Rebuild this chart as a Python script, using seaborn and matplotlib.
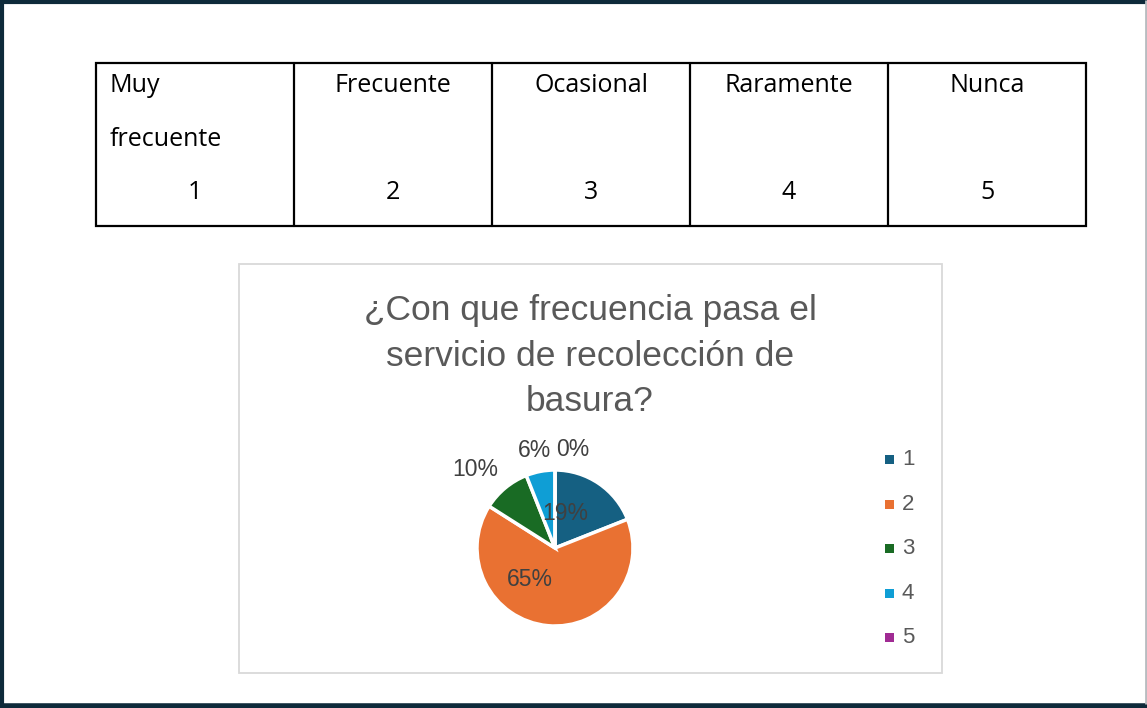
import matplotlib
matplotlib.use("Agg")
import matplotlib.pyplot as plt
import seaborn as sns
import numpy as np

# Response scale shown in the header table
scale_labels = ["Muy\nfrecuente", "Frecuente", "Ocasional", "Raramente", "Nunca"]
scale_codes = ["1", "2", "3", "4", "5"]

# Survey answers (percent of respondents) per scale code
categories = ["1", "2", "3", "4", "5"]
shares = [19, 65, 10, 6, 0]

title_lines = ["¿Con que frecuencia pasa el", "servicio de recolección de", "basura?"]

palette = sns.color_palette(["#156082", "#e97132", "#196b24", "#0f9ed5", "#a02b93"])

sns.set_theme(style="white")
plt.rcParams["font.family"] = ["Liberation Sans", "DejaVu Sans"]

W, H = 1147, 708
fig = plt.figure(figsize=(W / 100, H / 100), dpi=100)
ax = fig.add_axes([0, 0, 1, 1])


def Y(y):
    return H - y


# page frame
dark = "#0e2a3a"
ax.plot([1.5, 1.5], [Y(0), Y(708)], color=dark, lw=3, solid_capstyle="butt")
ax.plot([0, W], [Y(1.5), Y(1.5)], color=dark, lw=3, solid_capstyle="butt")
ax.plot([0, W], [Y(706), Y(706)], color=dark, lw=4, solid_capstyle="butt")
ax.plot([1145.5, 1145.5], [Y(0), Y(704)], color="#b8bcc0", lw=2, solid_capstyle="butt")

# header table
tx0, tx1, ty0, ty1 = 96, 1086, 63, 226
colw = (tx1 - tx0) / len(scale_labels)
ax.add_patch(plt.Rectangle((tx0, Y(ty1)), tx1 - tx0, ty1 - ty0, fill=False,
                           ec="black", lw=1.6))
for i in range(1, len(scale_labels)):
    x = tx0 + i * colw
    ax.plot([x, x], [Y(ty0), Y(ty1)], color="black", lw=1.6)
cell_font = dict(family=["Open Sans", "DejaVu Sans"], fontsize=18, color="black",
                 va="baseline")
for i, (lab, code) in enumerate(zip(scale_labels, scale_codes)):
    cx = tx0 + (i + 0.5) * colw
    if "\n" in lab:
        for j, line in enumerate(lab.split("\n")):
            ax.text(tx0 + 14, Y(92 + j * 54), line, ha="left", **cell_font)
    else:
        ax.text(cx, Y(92), lab, ha="center", **cell_font)
    ax.text(cx, Y(199), code, ha="center", **cell_font)

# chart area
ax.add_patch(plt.Rectangle((239, Y(673)), 942 - 239, 673 - 264, fill=False,
                           ec="#d9d9d9", lw=1.3))
for k, line in enumerate(title_lines):
    ax.text(590, Y(320 + k * 45.5), line, ha="center", va="baseline",
            fontsize=25.5, color="#595959")

# pie
cx, cy, r = 555, Y(548), 78
wedges, _ = ax.pie(shares, colors=palette, startangle=90, counterclock=False,
                   center=(cx, cy), radius=r,
                   wedgeprops=dict(edgecolor="white", linewidth=2.5))

# data labels: angular shift (deg) and distance (fraction of radius)
label_shift = [18, -33, 6, 1, -10]
label_dist = [0.46, 0.52, 1.44, 1.28, 1.28]
for w, val, sh, d in zip(wedges, shares, label_shift, label_dist):
    ang = np.deg2rad((w.theta1 + w.theta2) / 2 + sh)
    ax.text(cx + d * r * np.cos(ang), cy + d * r * np.sin(ang), f"{val}%",
            ha="center", va="center", fontsize=16.5, color="#404040")

# legend
for i, (cat, col) in enumerate(zip(categories, palette)):
    ly = Y(459.5 + i * 44.6)
    ax.add_patch(plt.Rectangle((885, ly - 4.5), 9, 9, color=col, lw=0))
    ax.text(902, ly, cat, ha="left", va="center", fontsize=16, color="#595959")

ax.set_xlim(0, W)
ax.set_ylim(0, H)
ax.set_aspect("auto")
ax.axis("off")
fig.savefig("out.png", dpi=100, facecolor="white")
